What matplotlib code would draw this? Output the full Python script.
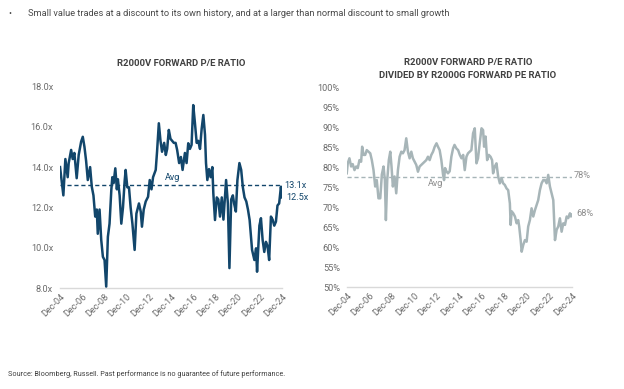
import matplotlib
matplotlib.use("Agg")
import matplotlib.pyplot as plt
from matplotlib.ticker import FuncFormatter

# ---------------- data ----------------
pe_dates = [2004.92, 2005.22, 2005.40, 2005.61, 2005.70, 2005.92, 2006.06, 2006.21, 2006.42, 2006.60,
            2006.82, 2006.97, 2007.12, 2007.27, 2007.42, 2007.63, 2007.78, 2007.93, 2008.09, 2008.23,
            2008.32, 2008.48, 2008.63, 2008.78, 2008.93, 2009.08, 2009.23, 2009.38, 2009.54, 2009.63,
            2009.74, 2009.90, 2010.04, 2010.13, 2010.29, 2010.44, 2010.59, 2010.74, 2010.83, 2010.98,
            2011.13, 2011.28, 2011.44, 2011.64, 2011.80, 2012.03, 2012.19, 2012.30, 2012.46, 2012.64,
            2012.85, 2013.00, 2013.16, 2013.30, 2013.54, 2013.66, 2013.82, 2013.97, 2014.11, 2014.30,
            2014.45, 2014.57, 2014.72, 2014.87, 2015.02, 2015.17, 2015.33, 2015.47, 2015.65, 2015.81,
            2015.96, 2016.17, 2016.32, 2016.47, 2016.62, 2016.77, 2016.92, 2017.07, 2017.23, 2017.37,
            2017.53, 2017.68, 2017.83, 2017.98, 2018.07, 2018.19, 2018.34, 2018.49, 2018.64, 2018.73,
            2018.88, 2019.04, 2019.18, 2019.33, 2019.49, 2019.64, 2019.88, 2020.04, 2020.18, 2020.34,
            2020.49, 2020.60, 2020.76, 2020.90, 2021.08, 2021.24, 2021.39, 2021.54, 2021.70, 2021.85,
            2022.00, 2022.22, 2022.43, 2022.58, 2022.67, 2022.88, 2023.02, 2023.17, 2023.32, 2023.47,
            2023.61, 2023.76, 2023.92, 2024.07, 2024.22, 2024.37, 2024.51, 2024.66, 2024.82, 2024.92]
pe_values = [14.0, 12.6, 14.4, 13.5, 14.2, 14.85, 14.4, 14.7, 13.45, 14.6,
             15.26, 15.5, 15.0, 14.3, 13.36, 14.0, 13.03, 12.6, 11.55, 11.9,
             10.7, 11.9, 10.4, 9.56, 9.4, 8.08, 10.55, 11.2, 12.87, 13.5,
             13.2, 13.94, 12.9, 13.4, 12.6, 11.2, 12.0, 13.3, 13.86, 13.0,
             13.0, 12.0, 11.2, 9.9, 11.7, 12.2, 11.8, 11.05, 11.9, 12.3,
             12.53, 13.36, 12.9, 13.5, 13.86, 14.76, 16.17, 15.3, 14.76, 15.2,
             14.6, 14.9, 15.84, 15.4, 15.3, 15.2, 15.2, 14.85, 14.2, 14.5,
             13.86, 14.7, 14.2, 15.18, 14.9, 15.1, 17.07, 16.2, 15.2, 15.3,
             14.9, 15.9, 16.58, 15.6, 14.2, 13.36, 13.9, 13.5, 14.0, 12.7,
             11.38, 12.5, 12.4, 11.55, 12.5, 11.4, 13.36, 12.2, 9.0, 12.4,
             12.6, 12.2, 11.8, 13.36, 14.2, 13.86, 13.0, 12.5, 12.3, 11.9,
             11.38, 9.9, 9.4, 9.98, 8.82, 11.1, 11.47, 10.4, 9.8, 10.3,
             10.1, 9.4, 11.55, 11.4, 11.1, 11.3, 12.1, 12.2, 13.03, 12.5]
pe_avg = 13.1
pe_last = 12.5

ratio_dates = [2004.92, 2005.01, 2005.16, 2005.31, 2005.45, 2005.61, 2005.76, 2005.90, 2006.05, 2006.20,
               2006.29, 2006.41, 2006.56, 2006.70, 2006.85, 2007.01, 2007.15, 2007.30, 2007.45, 2007.59,
               2007.74, 2007.90, 2008.04, 2008.19, 2008.31, 2008.40, 2008.52, 2008.66, 2008.79, 2008.90,
               2009.02, 2009.17, 2009.32, 2009.47, 2009.62, 2009.77, 2009.91, 2010.06, 2010.21, 2010.36,
               2010.51, 2010.66, 2010.80, 2010.95, 2011.10, 2011.25, 2011.40, 2011.55, 2011.69, 2011.84,
               2011.99, 2012.14, 2012.29, 2012.44, 2012.59, 2012.74, 2012.90, 2013.03, 2013.18, 2013.33,
               2013.48, 2013.57, 2013.66, 2013.78, 2013.92, 2014.07, 2014.22, 2014.37, 2014.50, 2014.67,
               2014.82, 2014.97, 2015.12, 2015.27, 2015.41, 2015.56, 2015.70, 2015.85, 2016.00, 2016.15,
               2016.30, 2016.45, 2016.59, 2016.74, 2016.90, 2017.04, 2017.13, 2017.26, 2017.40, 2017.55,
               2017.70, 2017.84, 2017.93, 2018.08, 2018.23, 2018.38, 2018.53, 2018.68, 2018.82, 2018.97,
               2019.13, 2019.27, 2019.42, 2019.49, 2019.58, 2019.72, 2019.87, 2020.02, 2020.16, 2020.25,
               2020.38, 2020.47, 2020.61, 2020.76, 2020.91, 2021.05, 2021.20, 2021.35, 2021.50, 2021.65,
               2021.80, 2021.94, 2022.09, 2022.24, 2022.39, 2022.54, 2022.69, 2022.83, 2022.98, 2023.13,
               2023.28, 2023.43, 2023.58, 2023.72, 2023.87, 2024.02, 2024.17, 2024.32, 2024.47, 2024.61,
               2024.76, 2024.85, 2024.92]
ratio_values = [78.5, 81.0, 82.25, 80.2, 80.8, 79.3, 80.2, 79.8, 81.8, 81.4,
                85.15, 83.1, 83.1, 84.3, 83.9, 83.5, 81.8, 79.3, 75.2, 76.8,
                72.25, 72.25, 78.2, 80.2, 76.8, 66.8, 76.8, 81.8, 83.9, 80.2,
                75.2, 77.7, 73.5, 79.3, 82.65, 83.9, 83.5, 84.3, 87.25, 83.9,
                82.25, 83.9, 82.25, 81.4, 80.6, 78.9, 80.2, 80.6, 81.0, 81.4,
                81.8, 82.65, 81.8, 83.1, 83.9, 85.15, 86.0, 85.15, 84.3, 81.8,
                78.2, 76.8, 79.8, 79.0, 78.5, 79.0, 82.65, 84.7, 85.6, 84.7,
                84.3, 83.1, 82.25, 83.1, 79.3, 82.65, 83.5, 83.9, 84.3, 88.5,
                89.75, 81.0, 82.25, 86.0, 89.75, 89.3, 85.15, 87.7, 81.8, 83.1,
                82.65, 81.8, 78.5, 80.2, 81.0, 77.7, 76.0, 77.3, 76.0, 75.6,
                74.7, 74.3, 71.0, 65.6, 69.0, 68.5, 67.7, 66.0, 66.8, 65.2,
                61.8, 58.9, 60.6, 61.8, 61.4, 65.2, 66.8, 69.75, 67.7, 69.3,
                70.6, 71.8, 74.3, 76.0, 76.8, 76.8, 76.0, 78.1, 75.2, 73.5,
                71.8, 61.8, 64.4, 65.2, 67.25, 63.9, 66.0, 65.6, 67.7, 67.3,
                68.5, 67.7, 68.1]
ratio_avg = 77.7
ratio_last = 68

tick_years = [2004, 2006, 2008, 2010, 2012, 2014, 2016, 2018, 2020, 2022, 2024]
tick_labels = ["Dec-%02d" % (y % 100) for y in tick_years]
tick_pos = [y + 11 / 12 for y in tick_years]

header = "Small value trades at a discount to its own history, and at a larger than normal discount to small growth"
title_left = "R2000V FORWARD P/E RATIO"
title_right = "R2000V FORWARD P/E RATIO\nDIVIDED BY R2000G FORWARD PE RATIO"
source = "Source: Bloomberg, Russell. Past performance is no guarantee of future performance."

# ---------------- style ----------------
plt.rcParams['font.family'] = ['Roboto', 'DejaVu Sans']
W, H = 624, 389
fig = plt.figure(figsize=(W / 100, H / 100), dpi=100)
fig.patch.set_facecolor("white")

def fx(x):
    return x / W

def fy(y):
    return 1 - y / H

navy = "#12466b"
grey_line = "#a7b5b8"
label_grey = "#6b6b6b"
FS = 6.6

# header and source
fig.text(fx(8), fy(13), "\u2022", fontsize=6.5, color="#4a4a4a", va="center", ha="left")
fig.text(fx(28), fy(13), header, fontsize=6.7, color="#4a4a4a", va="center", ha="left")
fig.text(fx(8), fy(374), source, fontsize=5.2, color="#404040", va="center", ha="left")

def style_axes(ax):
    for s in ["top", "right", "left"]:
        ax.spines[s].set_visible(False)
    ax.spines["bottom"].set_color("#d9d9d9")
    ax.spines["bottom"].set_linewidth(1.0)
    ax.tick_params(axis="both", length=0, labelsize=FS, labelcolor=label_grey)
    ax.set_xticks(tick_pos)
    ax.set_xticklabels(tick_labels, rotation=45, ha="right", rotation_mode="anchor")
    ax.tick_params(axis="x", pad=3)
    ax.tick_params(axis="y", pad=5)
    ax.set_xlim(tick_pos[0], tick_pos[-1])
    ax.set_facecolor("white")

# left chart
ax1 = fig.add_axes([fx(60), fy(288.3), (282 - 60) / W, (288.3 - 86.3) / H])
style_axes(ax1)
ax1.plot(pe_dates, pe_values, color=navy, lw=1.8, solid_joinstyle="round")
ax1.axhline(pe_avg, color=navy, lw=1.0, ls=(0, (3, 2)))
ax1.set_ylim(8, 18)
ax1.set_yticks([8, 10, 12, 14, 16, 18])
ax1.yaxis.set_major_formatter(FuncFormatter(lambda v, p: "%.1fx" % v))
ax1.text(2014.4, pe_avg + 0.15, "Avg", color=navy, fontsize=FS, ha="left", va="bottom")
ax1.text(1.01, pe_avg, "%.1fx" % pe_avg, transform=ax1.get_yaxis_transform(),
         color=navy, fontsize=FS, ha="left", va="center", clip_on=False)
ax1.text(1.02, pe_last, "%.1fx" % pe_last, transform=ax1.get_yaxis_transform(),
         color=navy, fontsize=FS, ha="left", va="center", clip_on=False)
fig.text(fx(181), fy(64), title_left, fontsize=6.8, fontweight="bold", color="#404040",
         ha="center", va="center")

# right chart
ax2 = fig.add_axes([fx(346.7), fy(287.3), (571.7 - 346.7) / W, (287.3 - 87.3) / H])
style_axes(ax2)
ax2.plot(ratio_dates, ratio_values, color=grey_line, lw=1.8, solid_joinstyle="round")
ax2.axhline(ratio_avg, color=grey_line, lw=1.0, ls=(0, (3, 2)))
ax2.set_ylim(50, 100)
ax2.set_yticks(list(range(50, 101, 5)))
ax2.yaxis.set_major_formatter(FuncFormatter(lambda v, p: "%d%%" % v))
ax2.text(2012.15, ratio_avg - 0.6, "Avg", color="#8c8c8c", fontsize=FS, ha="left", va="top")
ax2.text(1.01, ratio_avg + 0.3, "%d%%" % round(ratio_avg), transform=ax2.get_yaxis_transform(),
         color="#8c8c8c", fontsize=FS, ha="left", va="center", clip_on=False)
ax2.text(1.02, ratio_last + 0.5, "%d%%" % ratio_last, transform=ax2.get_yaxis_transform(),
         color="#8c8c8c", fontsize=FS, ha="left", va="center", clip_on=False)
fig.text(fx(468), fy(69), title_right, fontsize=6.8, fontweight="bold", color="#404040",
         ha="center", va="center", linespacing=1.5)

fig.savefig("out.png", dpi=100, facecolor="white")
